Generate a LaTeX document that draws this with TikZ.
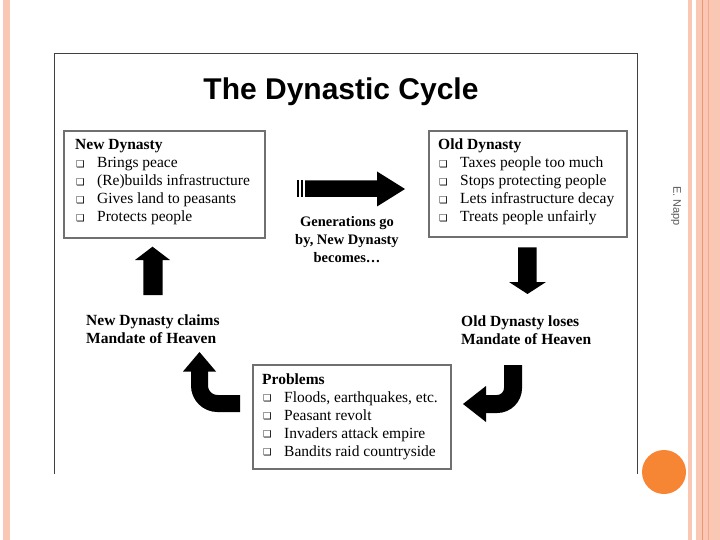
\documentclass[tikz,border=0pt]{standalone}
\usepackage{fontspec}
\setmainfont{Liberation Serif}
\newfontfamily\arialfont{Liberation Sans}
\newfontfamily\dejavufont{DejaVu Sans}
\definecolor{pinkc}{RGB}{249,199,180}
\definecolor{pinkline}{RGB}{238,150,110}
\definecolor{orangec}{RGB}{246,134,52}
\definecolor{framec}{RGB}{64,64,64}
\definecolor{boxc}{RGB}{112,112,112}
\definecolor{authorc}{RGB}{90,90,90}
\newcommand\bx{\makebox[22pt][l]{\hspace{1pt}\raisebox{0.3pt}{\dejavufont\fontsize{9.5}{9.5}\selectfont ❑}}}
\begin{document}
\begin{tikzpicture}[x=1pt,y=-1pt,
  box/.style={draw=boxc, line width=1.6pt, fill=white, inner sep=0pt, anchor=north west},
  boxtxt/.style={anchor=base west, inner sep=0pt, font=\fontsize{15.5}{18}\selectfont},
  lbl/.style={inner sep=0pt, font=\bfseries\fontsize{15.5}{18}\selectfont},
  blk/.style={fill=black, draw=none}]
\useasboundingbox (0,0) rectangle (720,540);
\fill[white] (0,0) rectangle (720,540);
% decorative strips
\fill[pinkc] (3,0) rectangle (10,540);
\fill[pinkc] (688.3,0) rectangle (692.3,540);
\fill[pinkc] (695.7,0) rectangle (720,540);
\draw[pinkline, line width=0.8pt] (702.3,0) -- (702.3,540);
\draw[pinkline!60!pinkc, line width=0.6pt] (708.3,0) -- (708.3,540);
\fill[orangec] (664,472) circle (22);
\node[rotate=-90, font=\arialfont\fontsize{11}{13}\selectfont, text=authorc, inner sep=0pt] (author) at (676,206) {E. Napp};
% picture frame
\draw[framec, line width=1pt] (54,474) -- (54,54) -- (637,54) -- (637,474);
% title
\node[font=\arialfont\bfseries\fontsize{30}{36}\selectfont, anchor=base, inner sep=0pt] (title) at (341,100) {The Dynastic Cycle};
% boxes
\node[box, minimum width=201pt, minimum height=107pt] (newbox) at (63,130) {};
\node[boxtxt] (newtxt) at (75,150) {\begin{tabular}[t]{@{}l@{}}
\textbf{New Dynasty}\\
\bx Brings peace\\
\bx (Re)builds infrastructure\\
\bx Gives land to peasants\\
\bx Protects people
\end{tabular}};
\node[box, minimum width=198pt, minimum height=106pt] (oldbox) at (428,130) {};
\node[boxtxt] (oldtxt) at (438,150) {\begin{tabular}[t]{@{}l@{}}
\textbf{Old Dynasty}\\
\bx Taxes people too much\\
\bx Stops protecting people\\
\bx Lets infrastructure decay\\
\bx Treats people unfairly
\end{tabular}};
\node[box, minimum width=198pt, minimum height=104pt] (probbox) at (252,364) {};
\node[boxtxt] (probtxt) at (262,384) {\begin{tabular}[t]{@{}l@{}}
\textbf{Problems}\\
\bx Floods, earthquakes, etc.\\
\bx Peasant revolt\\
\bx Invaders attack empire\\
\bx Bandits raid countryside
\end{tabular}};
% labels
\node[lbl, anchor=base, font=\bfseries\fontsize{14.5}{18}\selectfont] (gen) at (347,226) {\begin{tabular}[t]{@{}c@{}}Generations go\\by, New Dynasty\\becomes…\end{tabular}};
\node[lbl, anchor=base west] (claims) at (86,325) {\begin{tabular}[t]{@{}l@{}}New Dynasty claims\\Mandate of Heaven\end{tabular}};
\node[lbl, anchor=base west] (loses) at (461,326) {\begin{tabular}[t]{@{}l@{}}Old Dynasty loses\\ Mandate of Heaven\end{tabular}};
% right arrow (striped)
\fill[blk] (296.7,180.5) rectangle (299.3,197);
\fill[blk] (300.7,180.5) rectangle (303.3,197);
\fill[blk] (305,180.5) -- (377,180.5) -- (377,171.5) -- (405,189) -- (377,206.5) -- (377,197) -- (305,197) -- cycle;
% down arrow
\fill[blk] (518,247.3) -- (536.7,247.3) -- (536.7,282) -- (546,282) -- (527.5,294) -- (509,282) -- (518,282) -- cycle;
% up arrow
\fill[blk] (143.3,295) -- (162.7,295) -- (162.7,260) -- (170,260) -- (152.5,246.7) -- (135,260) -- (143.3,260) -- cycle;
% bent arrow bottom right (to the left)
\draw[line width=18pt, rounded corners=16pt] (513,365) -- (513,404) -- (484,404);
\fill[blk] (486,386) -- (486,422) -- (463,404) -- cycle;
% bent arrow bottom left (upwards)
\draw[line width=17pt, rounded corners=18pt] (240,403.5) -- (199.5,403.5) -- (199.5,370);
\fill[blk] (183,371.5) -- (216,371.5) -- (199.5,352) -- cycle;
\end{tikzpicture}
\end{document}
